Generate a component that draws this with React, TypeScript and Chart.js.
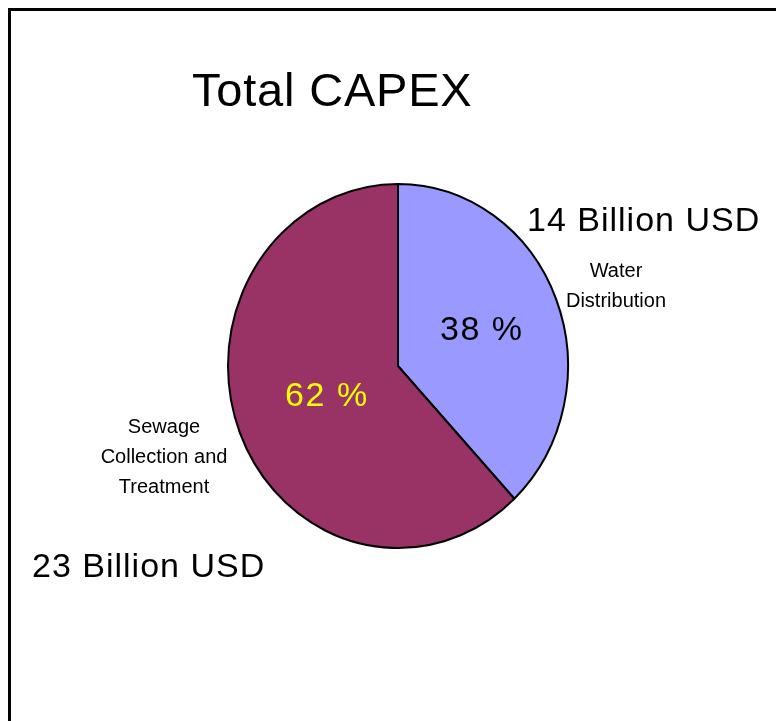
import React, { useEffect, useRef } from "react";
import { Chart, registerables } from "chart.js";

Chart.register(...registerables);

const title = "Total CAPEX";
const categories = ["Water Distribution", "Sewage Collection and Treatment"];
const shares = [38, 62];
const amounts = ["14 Billion USD", "23 Billion USD"];
const sliceColors = ["#9999FF", "#993366"];
const pctColors = ["#000000", "#FFFF00"];
const pctRadius = [0.53, 0.45];

const FONT = '"Liberation Sans", Arial, sans-serif';
const Y_STRETCH = 182 / 170;

const ellipsePlugin = {
  id: "ellipse",
  beforeDatasetsDraw(chart: any) {
    const ctx = chart.ctx;
    const a = chart.chartArea;
    const cy = (a.top + a.bottom) / 2;
    ctx.save();
    ctx.translate(0, cy);
    ctx.scale(1, Y_STRETCH);
    ctx.translate(0, -cy);
  },
  afterDatasetsDraw(chart: any) {
    const ctx = chart.ctx;
    ctx.restore();
    const meta = chart.getDatasetMeta(0);
    meta.data.forEach((arc: any, i: number) => {
      const p = arc.getProps(["x", "y", "startAngle", "endAngle", "outerRadius"], true);
      const mid = (p.startAngle + p.endAngle) / 2;
      const r = p.outerRadius * pctRadius[i];
      const x = p.x + Math.cos(mid) * r;
      const y = p.y + Math.sin(mid) * r * Y_STRETCH;
      ctx.save();
      ctx.font = `34px ${FONT}`;
      (ctx as any).letterSpacing = "1.5px";
      ctx.fillStyle = pctColors[i];
      ctx.textAlign = "center";
      ctx.textBaseline = "middle";
      ctx.fillText(`${shares[i]} %`, x, y);
      ctx.restore();
    });
  },
};

export default function App() {
  const ref = useRef<HTMLCanvasElement | null>(null);
  useEffect(() => {
    if (!ref.current) return;
    const chart = new Chart(ref.current, {
      type: "pie",
      data: {
        labels: categories,
        datasets: [
          {
            data: shares,
            backgroundColor: sliceColors,
            borderColor: "#000000",
            borderWidth: 2,
          },
        ],
      },
      options: {
        animation: false,
        responsive: false,
        devicePixelRatio: 1,
        layout: { padding: { left: 216, right: 199, top: 184, bottom: 176 } },
        plugins: {
          legend: { display: false },
          tooltip: { enabled: false },
          title: { display: false },
        },
      },
      plugins: [ellipsePlugin],
    });
    return () => chart.destroy();
  }, []);

  const abs = (extra: React.CSSProperties): React.CSSProperties => ({
    position: "absolute",
    fontFamily: FONT,
    color: "#000",
    whiteSpace: "nowrap",
    ...extra,
  });

  return (
    <div
      style={{
        position: "fixed",
        left: 8,
        top: 8,
        width: 800,
        height: 760,
        boxSizing: "border-box",
        borderTop: "3px solid #000",
        borderLeft: "3px solid #000",
        background: "#fff",
        overflow: "hidden",
      }}
    >
      <canvas ref={ref} width={757} height={702} style={{ position: "absolute", left: 0, top: 0 }} />
      <div style={abs({ left: 181, top: 55, fontSize: 47, lineHeight: "47px", letterSpacing: 0.8 })}>
        {title}
      </div>
      <div style={abs({ left: 516, top: 191, fontSize: 34, lineHeight: "34px", letterSpacing: 1 })}>
        {amounts[0]}
      </div>
      <div style={abs({ left: 21, top: 537, fontSize: 34, lineHeight: "34px", letterSpacing: 1 })}>
        {amounts[1]}
      </div>
      <div
        style={abs({
          left: 545,
          top: 244,
          width: 120,
          textAlign: "center",
          fontSize: 20,
          lineHeight: "30px",
          whiteSpace: "normal",
        })}
      >
        Water
        <br />
        Distribution
      </div>
      <div
        style={abs({
          left: 73,
          top: 400,
          width: 160,
          textAlign: "center",
          fontSize: 20,
          lineHeight: "30px",
          whiteSpace: "normal",
        })}
      >
        Sewage
        <br />
        Collection and
        <br />
        Treatment
      </div>
    </div>
  );
}
